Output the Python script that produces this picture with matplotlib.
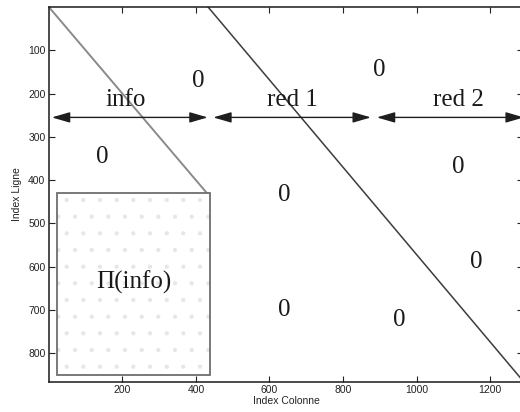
import matplotlib
matplotlib.use("Agg")
import matplotlib.pyplot as plt
from matplotlib.patches import Rectangle

plt.rcParams["hatch.linewidth"] = 0.6

# ---- data ----
xlim = (0, 1290)
ylim = (865, 0)
xticks = [200, 400, 600, 800, 1000, 1200]
yticks = [100, 200, 300, 400, 500, 600, 700, 800]

info_line_x = [0, 432]
info_line_y = [0, 432]
red_line_x = [433, 1290]
red_line_y = [0, 864]

arrow_y = 255
arrow_segments = [(8, 432), (447, 876), (892, 1292)]
segment_labels = ["info", "red 1", "red 2"]
segment_label_x = [209, 663, 1114]
segment_label_y = 215

zero_x = [407, 145, 898, 639, 1114, 1163, 639, 953]
zero_y = [170, 347, 146, 435, 370, 590, 700, 723]

perm_box = (22, 430, 417, 421)  # x, y, width, height
perm_label = "Π(info)"
perm_label_xy = (230, 636)

serif = ["Liberation Serif", "DejaVu Serif"]
sans = ["Liberation Sans", "DejaVu Sans"]

fig = plt.figure(figsize=(5.2, 4.12), dpi=100)
ax = fig.add_axes([0.0940, 0.074, 0.912, 0.909])
ax.set_xlim(*xlim)
ax.set_ylim(*ylim)

# diagonals
ax.plot(info_line_x, info_line_y, color="#8a8a8a", lw=1.4, solid_capstyle="butt", zorder=2)
ax.plot(red_line_x, red_line_y, color="#3c3c3c", lw=1.1, zorder=2, clip_on=True)

# permuted info block
bx, by, bw, bh = perm_box
ax.add_patch(Rectangle((bx, by), bw, bh, facecolor="white", edgecolor="#e6e6e6",
                       hatch=".", lw=0, zorder=3))
ax.add_patch(Rectangle((bx, by), bw, bh, facecolor="none", edgecolor="#6e6e6e",
                       lw=1.3, zorder=4))
ax.text(perm_label_xy[0], perm_label_xy[1], perm_label, fontsize=18, family=serif,
        ha="center", va="center", zorder=5, color="#1a1a1a")

# arrows
for (x0, x1) in arrow_segments:
    ax.annotate("", xy=(x1, arrow_y), xytext=(x0, arrow_y),
                arrowprops=dict(arrowstyle="<|-|>,head_length=1.1,head_width=0.32",
                                color="#1e1e1e", lw=1.0, shrinkA=0, shrinkB=0),
                annotation_clip=False, zorder=6)
for lab, lx in zip(segment_labels, segment_label_x):
    ax.text(lx, segment_label_y, lab, fontsize=18, family=serif, ha="center",
            va="center", color="#1a1a1a", zorder=6)

for zx, zy in zip(zero_x, zero_y):
    ax.text(zx, zy, "0", fontsize=18, family=serif, ha="center", va="center",
            color="#1a1a1a", zorder=6)

ax.set_xticks(xticks)
ax.set_yticks(yticks)
ax.tick_params(direction="in", length=4, width=0.8, top=True, right=True,
               labelsize=7.5, pad=2.5, colors="#222222")
for lbl in ax.get_xticklabels() + ax.get_yticklabels():
    lbl.set_family(sans)
for s in ax.spines.values():
    s.set_linewidth(1.1)
    s.set_color("#1a1a1a")
ax.set_xlabel("Index Colonne", fontsize=7.5, family=sans, labelpad=1, color="#222222")
ax.set_ylabel("Index Ligne", fontsize=7.5, family=sans, labelpad=4, color="#222222")

fig.savefig("out.png", dpi=100)
